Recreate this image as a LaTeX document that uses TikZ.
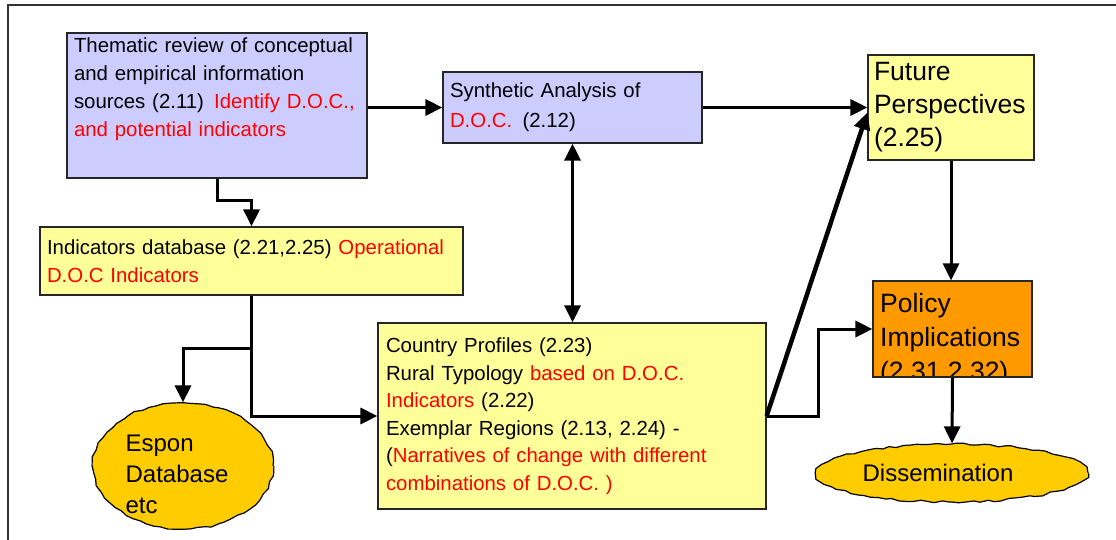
\documentclass[tikz,border=0pt]{standalone}
\usepackage{fontspec}
\setmainfont{Liberation Sans}
\usetikzlibrary{positioning}
\usetikzlibrary{shapes.geometric}
\usetikzlibrary{decorations.pathmorphing}
\usetikzlibrary{arrows.meta}

\definecolor{lilac}{HTML}{CCCCFF}
\definecolor{paleyellow}{HTML}{FFFF99}
\definecolor{policyorange}{HTML}{FF9900}
\definecolor{blobgold}{HTML}{FFCC00}
\definecolor{docred}{HTML}{FF0000}
\newcommand{\dred}[1]{\textcolor{docred}{#1}}

\begin{document}
\begin{tikzpicture}[x=1pt,y=-1pt]
        \useasboundingbox (0,0) rectangle (1116,540);
        \draw[line width=1.5pt,black!80] (8,540) -- (8,5) -- (1116,5);

        \begin{scope}[every node/.style={draw=black!85,line width=1.2pt,align=left,
            inner xsep=7pt,inner ysep=4pt,font=\fontsize{20.4}{28}\selectfont}]
            \node[fill=lilac,text width=286pt,minimum height=145pt] (theme) at (217,105.5)
                {Thematic review of conceptual\\ and empirical information\\
                 sources (2.11)\, \dred{Identify D.O.C.,}\\ \dred{and potential indicators}\\ \strut};
            \node[fill=lilac,text width=245pt,minimum height=71pt,
                font=\fontsize{20.4}{30}\selectfont] (synth) at (572.5,107.5)
                {Synthetic Analysis of\\ \dred{D.O.C.}\, (2.12)};
            \node[fill=paleyellow,text width=154pt,inner xsep=6pt,minimum height=105pt,
                font=\fontsize{26.5}{33}\selectfont] (future) at (951,107.5)
                {Future\\ Perspectives\\ (2.25)};
            \node[fill=paleyellow,text width=409pt,minimum height=68pt] (indicators) at (251.5,261)
                {Indicators database (2.21,2.25) \dred{Operational}\\ \dred{D.O.C Indicators}};
            \node[fill=paleyellow,text width=372pt,inner xsep=8pt,minimum height=186pt,
                font=\fontsize{20.4}{27.5}\selectfont] (country) at (572,416)
                {Country Profiles (2.23)\\
                 Rural Typology \dred{based on D.O.C.}\\
                 \dred{Indicators} (2.22)\\
                 Exemplar Regions (2.13, 2.24) -\\
                 (\dred{Narratives of change with different}\\
                 \dred{combinations of D.O.C. )}};
            \node[fill=policyorange,minimum width=159pt,minimum height=96pt,
                path picture={
                    \node[draw=none,anchor=north west,inner sep=0pt,align=left,
                        font=\fontsize{26.5}{34}\selectfont] (policytext)
                        at ([xshift=-3pt,yshift=-10pt]path picture bounding box.north west)
                        {Policy\\ Implications\\ (2.31,2.32)};
                }] (policy) at (952.5,329) {};
        \end{scope}

        \begin{scope}[every node/.style={ellipse,draw=black,line width=1.2pt,fill=blobgold,
            inner sep=0pt,decorate,decoration={random steps,segment length=7pt,amplitude=1.2pt},
            font=\fontsize{24}{31}\selectfont}]
            \node[minimum width=180pt,minimum height=126pt] (espon) at (183,466) {};
            \node[minimum width=272pt,minimum height=58pt] (dissem) at (952,473)
                {Dissemination\hspace*{28pt}};
        \end{scope}
        \node[align=left,inner sep=0pt,font=\fontsize{24}{31}\selectfont] (espontext) at (177,474)
            {Espon\\ Database\\ etc};

        \coordinate (split) at (251.5,348);

        \begin{scope}[>={Triangle[length=17pt,width=16pt]},line width=3pt,
            every edge/.style={draw=black,line width=3pt}]
            \path [->] (theme.east |- synth) edge (synth.west);
            \path [->] (synth.east) edge (future.west);
            \path [<->] (synth.south) edge (synth.south |- country.north);
            \path [->] (future.south) edge (future.south |- policy.north);
            \path [->] (policy.south) edge (dissem.north);
            \path [->] (country.east) edge[line width=4.5pt] ([yshift=-5pt]future.west);
            \draw [->] (theme.south) -- ++(0,22) -| (indicators.north);
            \draw [->] (indicators.south) |- (country.west);
            \draw [->] (split) -| (espon.north);
            \draw [->] (country.east) -- ++(52,0) |- (policy.west);
        \end{scope}
    \end{tikzpicture}
\end{document}
